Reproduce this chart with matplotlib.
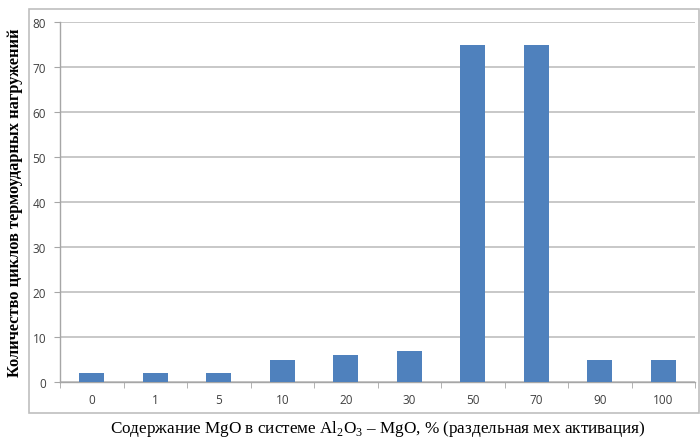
import matplotlib.pyplot as plt
from matplotlib.patches import Rectangle
import numpy as np

# MgO content categories and thermal shock cycle counts
categories = ['0', '1', '5', '10', '20', '30', '50', '70', '90', '100']
cycles = [2, 2, 2, 5, 6, 7, 75, 75, 5, 5]

plt.rcParams['mathtext.fontset'] = 'custom'
plt.rcParams['mathtext.rm'] = 'Liberation Serif'

fig = plt.figure(figsize=(7, 4.39), dpi=100)
ax = fig.add_axes([60/700, 56/439, 635/700, 360/439])

# grey chart frame like the spreadsheet chart area
fig.patches.append(Rectangle((29/700, 25/439), 670/700, 404/439, transform=fig.transFigure,
                             fill=False, edgecolor='#BFBFBF', linewidth=1.2))

x = np.arange(len(categories))
ax.bar(x, cycles, width=0.39, color='#4F81BD', zorder=3)

ax.set_xlim(-0.5, len(categories) - 0.5)
ax.set_ylim(0, 80)
ax.set_yticks(range(0, 81, 10))
ax.set_xticks(x)
ax.set_xticklabels(categories)
ax.set_xticks(np.arange(-0.5, len(categories), 1), minor=True)

ax.grid(axis='y', color='#BFBFBF', linewidth=1.2, zorder=0)
for s in ['top', 'right']:
    ax.spines[s].set_visible(False)
for s in ['left', 'bottom']:
    ax.spines[s].set_color('#A6A6A6')
    ax.spines[s].set_linewidth(1.0)

ax.tick_params(axis='x', which='major', length=0, pad=8, labelsize=8.5, labelcolor='#404040')
ax.tick_params(axis='x', which='minor', length=4, color='#A6A6A6')
ax.tick_params(axis='y', length=4, color='#A6A6A6', labelsize=8.5, labelcolor='#404040', pad=6)
for lab in ax.get_xticklabels() + ax.get_yticklabels():
    lab.set_family('Open Sans')

fig.text(15/700, 1 - 203/439, 'Количество циклов термоударных нагружений', rotation=90,
         ha='center', va='center', family='Liberation Serif', fontweight='bold', fontsize=11.8)
fig.text(378/700, 1 - 429/439, 'Содержание MgO в системе Al$_2$O$_3$ – MgO, % (раздельная мех активация)',
         ha='center', va='center', family='Liberation Serif', fontsize=12.3)

fig.savefig('out.png', dpi=100)
